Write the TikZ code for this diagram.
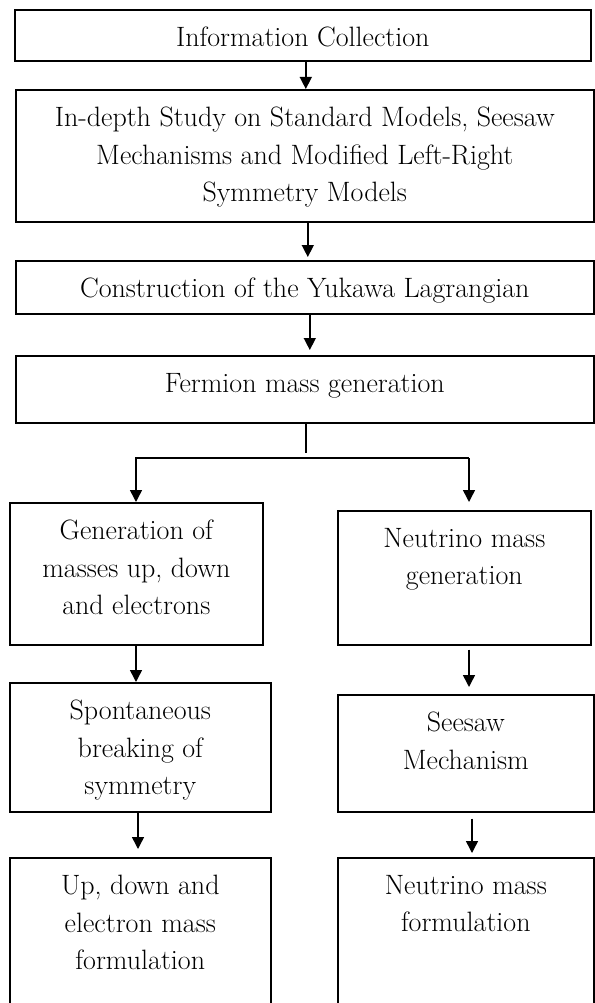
\documentclass[tikz,border=0pt]{standalone}
\usetikzlibrary{arrows.meta}

\begin{document}
\begin{tikzpicture}
        [
            x=1pt, y=-1pt,
            box/.style = {draw, shape=rectangle, anchor=north west, inner sep=0pt, line width=1.6pt},
            txt/.style = {anchor=north, align=center, inner sep=0pt, yshift=-18pt, font=\fontsize{28}{37.5}\selectfont},
            arr/.style = {-{Triangle[length=12pt,width=12pt]}, line width=1.5pt},
        ]
        \useasboundingbox (0,0) rectangle (594,1003);

        % main column
        \node[box, minimum width=576pt, minimum height=51pt,
              label={[txt]north:Information Collection}] (info) at (14,9) {};
        \node[box, minimum width=578pt, minimum height=132pt,
              label={[txt]north:{In-depth Study on Standard Models, Seesaw\\Mechanisms and Modified Left-Right\\Symmetry Models}}] (study) at (15,89) {};
        \node[box, minimum width=578pt, minimum height=53pt,
              label={[txt]north:Construction of the Yukawa Lagrangian}] (yukawa) at (15,260) {};
        \node[box, minimum width=578pt, minimum height=67pt,
              label={[txt]north:Fermion mass generation}] (fermion) at (15,355) {};

        % left column
        \node[box, minimum width=253pt, minimum height=142pt,
              label={[txt]north:{Generation of\\masses up, down\\and electrons}}] (genmass) at (9,502) {};
        \node[box, minimum width=261pt, minimum height=129pt,
              label={[txt]north:{Spontaneous\\breaking of\\symmetry}}] (ssb) at (9,682) {};
        \node[box, minimum width=261pt, minimum height=160pt,
              label={[txt]north:{Up, down and\\electron mass\\formulation}}] (udform) at (9,857) {};

        % right column
        \node[box, minimum width=253pt, minimum height=134pt,
              label={[txt]north:{Neutrino mass\\generation}}] (neumass) at (337,510) {};
        \node[box, minimum width=256pt, minimum height=117pt,
              label={[txt]north:{Seesaw\\Mechanism}}] (seesaw) at (337,694) {};
        \node[box, minimum width=256pt, minimum height=160pt,
              label={[txt]north:{Neutrino mass\\formulation}}] (neuform) at (337,857) {};

        \coordinate (stem) at (306,453);
        \coordinate (forkL) at (136,458);
        \coordinate (forkR) at (469,458);

        \draw [arr] ([xshift=3pt]info.south) -- ([xshift=3pt]info.south |- study.north);
        \draw [arr, shorten >=3pt] ([xshift=3pt]study.south) -- ([xshift=3pt]study.south |- yukawa.north);
        \draw [arr, shorten >=5pt] ([xshift=5pt]yukawa.south) -- ([xshift=5pt]yukawa.south |- fermion.north);

        \draw [line width=1.5pt] (fermion.south -| stem) -- (stem);
        \draw [arr] (forkR) -- (forkL) -- (forkL |- genmass.north);
        \draw [arr, shorten >=8pt] (forkR) -- (forkR |- neumass.north);

        \draw [arr] (genmass.south -| forkL) -- (forkL |- ssb.north);
        \draw [arr, shorten >=8pt] ([xshift=2pt]ssb.south -| forkL) -- ([xshift=2pt]forkL |- udform.north);

        \draw [arr, shorten <=4pt, shorten >=7pt] (neumass.south -| forkR) -- (forkR |- seesaw.north);
        \draw [arr, shorten <=6pt, shorten >=4pt] ([xshift=3pt]seesaw.south -| forkR) -- ([xshift=3pt]forkR |- neuform.north);
    \end{tikzpicture}
\end{document}
